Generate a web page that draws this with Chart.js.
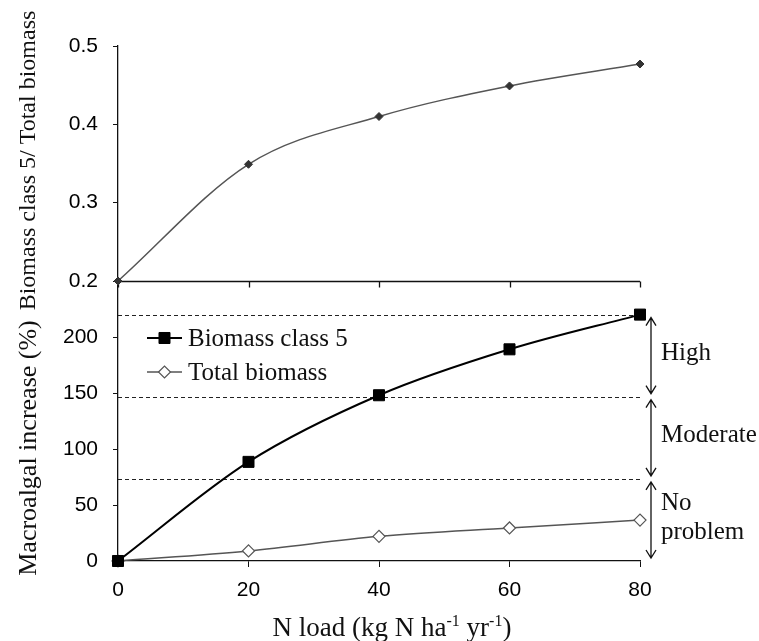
<!DOCTYPE html>
<html>
<head>
<meta charset="utf-8">
<script src="https://cdn.jsdelivr.net/npm/chart.js@4.4.1/dist/chart.umd.min.js"></script>
<style>
  html, body { margin: 0; padding: 0; background: #fff; }
</style>
</head>
<body>
<canvas id="chart" width="759" height="641"></canvas>
<script>
// N load (kg N ha-1 yr-1)
const nLoad = [0, 20, 40, 60, 80];

// upper panel: biomass class 5 / total biomass
const ratioClass5 = [0.2, 0.349, 0.41, 0.449, 0.477];

// lower panel: macroalgal increase (%)
const increaseClass5 = [0, 88.5, 148, 189, 220];
const increaseTotal = [0, 9, 22, 29.5, 36.5];

// problem classes (dashed limits and arrow labels)
const classEdges = [0, 73.3, 146.7, 220];
const classNames = [["No", "problem"], ["Moderate"], ["High"]];

const ratioTicks = [0.2, 0.3, 0.4, 0.5];
const increaseTicks = [0, 50, 100, 150, 200, 250];

const SANS = "'Liberation Sans', Arial, sans-serif";
const SERIF = "'Liberation Serif', 'Times New Roman', serif";

function toPoints(values) {
  return nLoad.map((x, i) => ({ x: x, y: values[i] }));
}

// dashed limits, the axis line between the two panels
const backgroundPlugin = {
  id: "background",
  beforeDatasetsDraw(chart) {
    const ctx = chart.ctx;
    const x = chart.scales.x;
    const yB = chart.scales.yB;
    const yT = chart.scales.yT;
    const left = chart.chartArea.left;
    const right = x.getPixelForValue(80) + 2;

    ctx.save();
    ctx.strokeStyle = "#222";
    ctx.lineWidth = 1;
    ctx.setLineDash([4, 3]);
    classEdges.slice(1).forEach((v) => {
      const py = Math.round(yB.getPixelForValue(v)) + 0.5;
      ctx.beginPath();
      ctx.moveTo(left, py);
      ctx.lineTo(right, py);
      ctx.stroke();
    });
    ctx.setLineDash([]);

    // x axis of the upper panel
    const mid = Math.round(yT.bottom) + 0.5;
    ctx.strokeStyle = "#111";
    ctx.lineWidth = 1.3;
    ctx.beginPath();
    ctx.moveTo(left, mid);
    ctx.lineTo(x.getPixelForValue(80), mid);
    nLoad.forEach((v) => {
      const px = Math.round(x.getPixelForValue(v)) + 0.5;
      ctx.moveTo(px, mid);
      ctx.lineTo(px, mid + 6);
    });
    ctx.stroke();
    ctx.restore();
  }
};

function drawArrow(ctx, x, y1, y2) {
  const h = 8, w = 5;
  ctx.beginPath();
  ctx.moveTo(x, y1);
  ctx.lineTo(x, y2);
  ctx.moveTo(x - w, y1 + h);
  ctx.lineTo(x, y1);
  ctx.lineTo(x + w, y1 + h);
  ctx.moveTo(x - w, y2 - h);
  ctx.lineTo(x, y2);
  ctx.lineTo(x + w, y2 - h);
  ctx.stroke();
}

function drawRichText(ctx, parts, cx, baseline, size) {
  const supSize = Math.round(size * 0.58);
  let total = 0;
  parts.forEach((p) => {
    ctx.font = (p.sup ? supSize : size) + "px " + SERIF;
    p.w = ctx.measureText(p.t).width;
    total += p.w;
  });
  let px = cx - total / 2;
  ctx.textAlign = "left";
  ctx.textBaseline = "alphabetic";
  parts.forEach((p) => {
    ctx.font = (p.sup ? supSize : size) + "px " + SERIF;
    ctx.fillText(p.t, px, p.sup ? baseline - size * 0.36 : baseline);
    px += p.w;
  });
}

// legend, class arrows and axis titles
const overlayPlugin = {
  id: "overlay",
  afterDraw(chart) {
    const ctx = chart.ctx;
    const x = chart.scales.x;
    const yB = chart.scales.yB;
    const yT = chart.scales.yT;
    const area = chart.chartArea;

    ctx.save();

    // legend
    [0, 1].forEach((i) => {
      const ds = chart.data.datasets[i];
      const ly = yB.top + 57 + i * 34;
      const lx = area.left + 29;
      ctx.lineWidth = ds.borderWidth;
      ctx.strokeStyle = ds.borderColor;
      ctx.beginPath();
      ctx.moveTo(lx, ly);
      ctx.lineTo(lx + 35, ly);
      ctx.stroke();
      ctx.fillStyle = ds.pointBackgroundColor;
      ctx.strokeStyle = ds.pointBorderColor;
      ctx.lineWidth = ds.pointBorderWidth;
      Chart.helpers.drawPoint(ctx, {
        pointStyle: ds.pointStyle,
        radius: ds.pointRadius,
        borderWidth: ds.pointBorderWidth
      }, lx + 17.5, ly);
      ctx.fillStyle = "#111";
      ctx.font = "25px " + SERIF;
      ctx.textAlign = "left";
      ctx.textBaseline = "middle";
      ctx.fillText(ds.label, lx + 41, ly + 1);
    });

    // class arrows
    const ax = x.getPixelForValue(80) + 11;
    ctx.strokeStyle = "#111";
    ctx.fillStyle = "#111";
    ctx.lineWidth = 1.3;
    ctx.font = "25px " + SERIF;
    ctx.textAlign = "left";
    ctx.textBaseline = "middle";
    classNames.forEach((name, i) => {
      const yLow = yB.getPixelForValue(classEdges[i]);
      const yHigh = yB.getPixelForValue(classEdges[i + 1]);
      drawArrow(ctx, ax, yHigh + 3, yLow - 3);
      const cy = (yLow + yHigh) / 2;
      name.forEach((line, j) => {
        const off = (j - (name.length - 1) / 2) * 29;
        ctx.fillText(line, ax + 10, cy + off - 2);
      });
    });

    // y axis titles (rotated)
    ctx.textAlign = "center";
    ctx.textBaseline = "alphabetic";
    ctx.font = "24px " + SERIF;
    ctx.save();
    ctx.translate(35, (yT.top + yT.bottom) / 2 - 3);
    ctx.rotate(-Math.PI / 2);
    ctx.fillText("Biomass class 5/ Total biomass", 0, 0);
    ctx.restore();
    ctx.font = "26px " + SERIF;
    ctx.save();
    ctx.translate(36, (yB.top + yB.bottom) / 2 + 27);
    ctx.rotate(-Math.PI / 2);
    ctx.fillText("Macroalgal increase (%)", 0, 0);
    ctx.restore();

    // x axis title
    drawRichText(ctx, [
      { t: "N load (kg N ha" },
      { t: "-1", sup: true },
      { t: " yr" },
      { t: "-1", sup: true },
      { t: ")" }
    ], (area.left + area.right) / 2 + 13, 636, 27);

    ctx.restore();
  }
};

const tickFont = { family: SANS, size: 21 };

new Chart(document.getElementById("chart"), {
  type: "line",
  data: {
    datasets: [
      {
        label: "Biomass class 5",
        data: toPoints(increaseClass5),
        yAxisID: "yB",
        borderColor: "#000",
        borderWidth: 2,
        cubicInterpolationMode: "monotone",
        pointStyle: "rect",
        pointRadius: 7.8,
        pointBackgroundColor: "#000",
        pointBorderColor: "#000",
        pointBorderWidth: 1,
        clip: false
      },
      {
        label: "Total biomass",
        data: toPoints(increaseTotal),
        yAxisID: "yB",
        borderColor: "#555",
        borderWidth: 1.5,
        cubicInterpolationMode: "monotone",
        pointStyle: "rectRot",
        pointRadius: 6,
        pointBackgroundColor: "#fff",
        pointBorderColor: "#555",
        pointBorderWidth: 1.2,
        clip: false
      },
      {
        label: "Biomass class 5/ Total biomass",
        data: toPoints(ratioClass5),
        yAxisID: "yT",
        borderColor: "#555",
        borderWidth: 1.5,
        cubicInterpolationMode: "monotone",
        pointStyle: "rectRot",
        pointRadius: 4,
        pointBackgroundColor: "#333",
        pointBorderColor: "#333",
        pointBorderWidth: 1,
        clip: false
      }
    ]
  },
  options: {
    responsive: false,
    animation: false,
    devicePixelRatio: 1,
    layout: {
      padding: { top: 46, right: 119, bottom: 0, left: 0 }
    },
    plugins: {
      legend: { display: false },
      tooltip: { enabled: false }
    },
    scales: {
      x: {
        type: "linear",
        min: 0,
        max: 80,
        afterBuildTicks: (scale) => {
          scale.ticks = nLoad.map((v) => ({ value: v }));
        },
        afterFit: (scale) => {
          scale.height = 80;
        },
        ticks: {
          font: tickFont,
          color: "#000",
          padding: 11,
          maxRotation: 0
        },
        grid: {
          drawOnChartArea: false,
          drawTicks: true,
          tickLength: 6,
          color: "#111"
        },
        border: { color: "#111", width: 1.3 }
      },
      yB: {
        type: "linear",
        position: "left",
        stack: "panels",
        stackWeight: 280,
        min: 0,
        max: 250,
        afterBuildTicks: (scale) => {
          scale.ticks = increaseTicks.map((v) => ({ value: v }));
        },
        afterFit: (scale) => {
          scale.width = 118;
        },
        ticks: {
          font: tickFont,
          color: "#000",
          padding: 15,
          callback: (v) => (v === 250 ? "" : String(v))
        },
        grid: {
          drawOnChartArea: false,
          drawTicks: true,
          tickLength: 5,
          color: "#111"
        },
        border: { color: "#111", width: 1.3 }
      },
      yT: {
        type: "linear",
        position: "left",
        stack: "panels",
        stackWeight: 235,
        min: 0.2,
        max: 0.5,
        afterBuildTicks: (scale) => {
          scale.ticks = ratioTicks.map((v) => ({ value: v }));
        },
        afterFit: (scale) => {
          scale.width = 118;
        },
        ticks: {
          font: tickFont,
          color: "#000",
          padding: 15,
          callback: (v) => Number(v).toFixed(1)
        },
        grid: {
          drawOnChartArea: false,
          drawTicks: true,
          tickLength: 5,
          color: "#111"
        },
        border: { color: "#111", width: 1.3 }
      }
    }
  },
  plugins: [backgroundPlugin, overlayPlugin]
});
</script>
</body>
</html>
